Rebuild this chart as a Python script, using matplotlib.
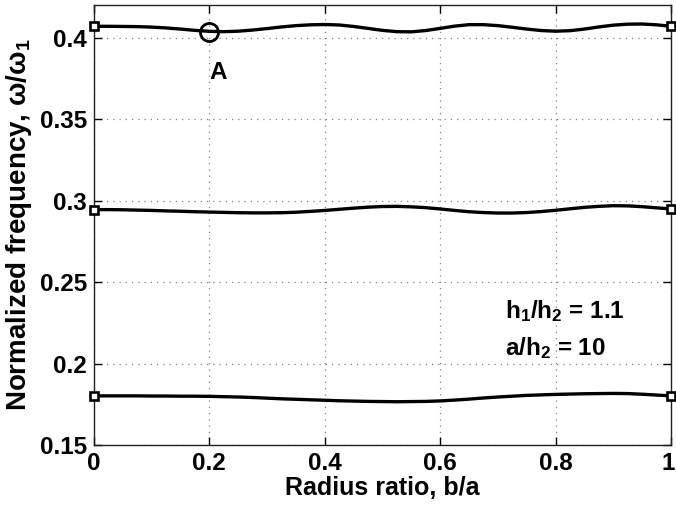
import matplotlib
matplotlib.use("Agg")
import matplotlib.pyplot as plt
from matplotlib.transforms import ScaledTranslation

plt.rcParams['font.family'] = ['Liberation Sans', 'DejaVu Sans']
plt.rcParams['font.weight'] = 'bold'
plt.rcParams['mathtext.fontset'] = 'custom'
plt.rcParams['mathtext.rm'] = 'Liberation Sans:bold'
plt.rcParams['mathtext.it'] = 'Liberation Sans:bold'
plt.rcParams['mathtext.bf'] = 'Liberation Sans:bold'
plt.rcParams['mathtext.default'] = 'rm'

b = [0.000, 0.025, 0.050, 0.075, 0.100, 0.125, 0.150, 0.175, 0.200, 0.225,
     0.250, 0.275, 0.300, 0.325, 0.350, 0.375, 0.400, 0.425, 0.450, 0.475,
     0.500, 0.525, 0.550, 0.575, 0.600, 0.625, 0.650, 0.675, 0.700, 0.725,
     0.750, 0.775, 0.800, 0.825, 0.850, 0.875, 0.900, 0.925, 0.950, 0.975, 1.000]
mode3 = [0.4070, 0.4070, 0.4069, 0.4068, 0.4065, 0.4060, 0.4053, 0.4045, 0.4039, 0.4037,
         0.4040, 0.4047, 0.4056, 0.4066, 0.4074, 0.4079, 0.4081, 0.4078, 0.4069, 0.4057,
         0.4045, 0.4037, 0.4036, 0.4044, 0.4057, 0.4071, 0.4080, 0.4080, 0.4074, 0.4064,
         0.4053, 0.4044, 0.4040, 0.4043, 0.4053, 0.4066, 0.4077, 0.4083, 0.4084, 0.4079, 0.4070]
mode2 = [0.2945, 0.2945, 0.2944, 0.2942, 0.2940, 0.2937, 0.2935, 0.2932, 0.2930, 0.2928,
         0.2926, 0.2925, 0.2925, 0.2926, 0.2929, 0.2934, 0.2940, 0.2947, 0.2954, 0.2960,
         0.2964, 0.2965, 0.2962, 0.2957, 0.2949, 0.2940, 0.2932, 0.2927, 0.2924, 0.2924,
         0.2927, 0.2933, 0.2941, 0.2950, 0.2959, 0.2965, 0.2969, 0.2968, 0.2963, 0.2956, 0.2949]
mode1 = [0.1802, 0.1802, 0.1802, 0.1802, 0.1801, 0.1801, 0.1800, 0.1800, 0.1799, 0.1797,
         0.1795, 0.1792, 0.1788, 0.1784, 0.1781, 0.1778, 0.1775, 0.1772, 0.1770, 0.1768,
         0.1767, 0.1766, 0.1767, 0.1768, 0.1771, 0.1776, 0.1782, 0.1789, 0.1795, 0.1800,
         0.1805, 0.1808, 0.1811, 0.1813, 0.1815, 0.1816, 0.1817, 0.1816, 0.1812, 0.1807, 0.1802]

point_A = (0.2, 0.4038)

xticks = [0, 0.2, 0.4, 0.6, 0.8, 1]
xticklabels = ['0', '0.2', '0.4', '0.6', '0.8', '1']
yticks = [0.15, 0.2, 0.25, 0.3, 0.35, 0.4]
yticklabels = ['0.15', '0.2', '0.25', '0.3', '0.35', '0.4']

fig = plt.figure(figsize=(6.76, 5.11), dpi=100)
ax = fig.add_axes([0.139, 0.129, 0.8536, 0.861])

for series in (mode3, mode2, mode1):
    ax.plot(b, series, color='black', lw=2.4, solid_joinstyle='round',
            solid_capstyle='round', zorder=3)
    ax.plot([b[0], b[-1]], [series[0], series[-1]], ls='none', marker='s',
            ms=6, mfc='white', mec='black', mew=1.9, zorder=4, clip_on=False)

ax.plot([point_A[0]], [point_A[1]], ls='none', marker='o', ms=13,
        mfc='none', mec='black', mew=2.0, zorder=5)
ax.text(0.215, 0.3748, 'A', ha='center', va='baseline', fontsize=17.5, fontweight='bold')

ax.text(0.712, 0.2277, r'h$_1$/h$_2$ = 1.1', ha='left', va='baseline', fontsize=17.5, fontweight='bold')
ax.text(0.712, 0.2050, r'a/h$_2$ = 10', ha='left', va='baseline', fontsize=17.5, fontweight='bold')

ax.set_xlim(0, 1)
ax.set_ylim(0.15, 0.42)
ax.set_xticks(xticks)
ax.set_xticklabels(xticklabels)
ax.set_yticks(yticks)
ax.set_yticklabels(yticklabels)
ax.tick_params(direction='in', length=6, width=1, top=True, right=True,
               labelsize=17.5, colors='black', pad=5)
for lab in ax.get_xticklabels() + ax.get_yticklabels():
    lab.set_fontweight('bold')
last = ax.get_xticklabels()[-1]
last.set_transform(last.get_transform() + ScaledTranslation(-3 / 100, 0, fig.dpi_scale_trans))
ax.grid(True, ls=(0, (1, 4)), color='#808080', lw=0.9)
for s in ax.spines.values():
    s.set_linewidth(1.0)
    s.set_color('#222222')

ax.set_xlabel('Radius ratio, b/a', fontsize=18, fontweight='bold', labelpad=1)
ax.set_ylabel('Normalized frequency, ω/ω$_1$', fontsize=20, fontweight='bold', labelpad=4)

fig.savefig('out.png', dpi=100)
